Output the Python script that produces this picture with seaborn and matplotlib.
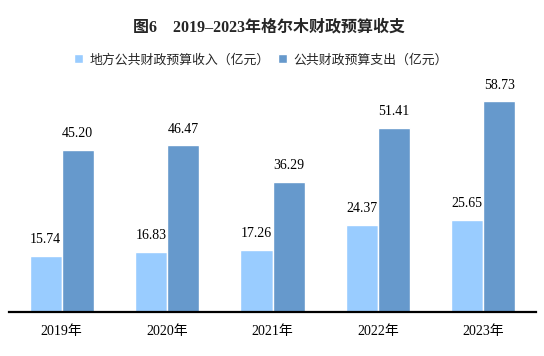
import matplotlib
matplotlib.use("Agg")
import matplotlib.pyplot as plt
import seaborn as sns
import pandas as pd

years = ["2019年", "2020年", "2021年", "2022年", "2023年"]
revenue = [15.74, 16.83, 17.26, 24.37, 25.65]
expenditure = [45.20, 46.47, 36.29, 51.41, 58.73]
series_names = ["地方公共财政预算收入（亿元）", "公共财政预算支出（亿元）"]
colors = ["#99CCFF", "#6699CC"]

sns.set_theme(style="white")
plt.rcParams["font.family"] = ["Liberation Serif", "Noto Sans CJK SC"]

df = pd.DataFrame({
    "year": years * 2,
    "value": revenue + expenditure,
    "series": [series_names[0]] * len(years) + [series_names[1]] * len(years),
})

fig = plt.figure(figsize=(5.44, 3.56), dpi=100)
ax = fig.add_axes([9 / 544, 44 / 356, 527 / 544, 251 / 356])
sns.barplot(data=df, x="year", y="value", hue="series", palette=colors,
            width=0.61, gap=0.0, edgecolor="white", linewidth=1.0,
            saturation=1, ax=ax, legend=True)

ax.set_xlim(-0.5, 4.5)
ax.set_ylim(0, 70)
for c in ax.containers:
    ax.bar_label(c, labels=[f"{v:.2f}" for v in c.datavalues], padding=7,
                 fontsize=10, family=["Liberation Serif", "Noto Sans CJK SC"], color="black")

for s in ["top", "right", "left"]:
    ax.spines[s].set_visible(False)
ax.spines["bottom"].set_color("black")
ax.spines["bottom"].set_linewidth(1.6)
ax.set_yticks([])
ax.set_xlabel("")
ax.set_ylabel("")
ax.tick_params(axis="x", length=0, pad=9, labelsize=10, colors="black")

leg = ax.legend(loc="center", bbox_to_anchor=(0.478, 1.004), ncol=2, frameon=False,
                handlelength=0.7, handleheight=0.7, handletextpad=0.5,
                columnspacing=0.6, prop={"family": ["Noto Sans CJK SC"], "size": 9.3})

fig.text(0.495, 0.922, "图6\u20032019–2023年格尔木财政预算收支", ha="center", va="center",
         fontsize=11.5, fontweight="bold", family=["Liberation Serif", "Noto Sans CJK SC"])

fig.savefig("out.png", dpi=100)
